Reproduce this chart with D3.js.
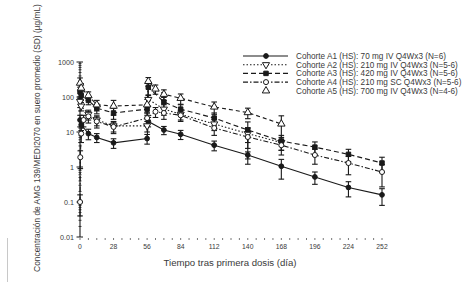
<!DOCTYPE html>
<html>
<head>
<meta charset="utf-8">
<script src="https://cdn.jsdelivr.net/npm/d3@7"></script>
<style>
  body { margin: 0; background: #fff; }
  svg { font-family: "Liberation Sans", Arial, sans-serif; }
</style>
</head>
<body>
<svg id="chart" width="475" height="282"></svg>
<script>
// each point: [day, mean, SD]
const cohortA1 = [[0.04, 22, 8], [1, 16, 5], [7, 9, 3], [14, 7, 2], [28, 4.9, 1.5], [56, 6.5, 2],
  [57, 20, 6], [70, 11.4, 3], [84, 8.6, 2.5], [112, 4.2, 1.3], [140, 2.2, 0.5], [168, 1.05, 0.6],
  [196, 0.52, 0.2], [224, 0.26, 0.12], [252, 0.16, 0.08]];
const cohortA2 = [[0.04, 75, 25], [1, 55, 15], [7, 32, 10], [14, 22, 7], [28, 15, 5], [56, 15, 5],
  [57, 85, 30], [70, 45, 15], [84, 32, 10], [112, 17, 6], [140, 9, 4], [168, 5, 2]];
const cohortA3 = [[0.04, 140, 50], [1, 110, 30], [7, 80, 20], [14, 48, 15], [28, 35, 12], [56, 45, 15],
  [57, 190, 80], [70, 72, 25], [84, 45, 15], [112, 25, 10], [140, 11.4, 8], [168, 5.5, 2.5],
  [196, 3.7, 1.5], [224, 2.3, 0.9], [252, 1.3, 0.6]];
const cohortA4 = [[0.04, 0.1, 0.06], [0.25, 1.9, 1.0], [1, 9, 4], [3, 22, 8], [7, 28, 10], [14, 20, 7],
  [28, 14, 5], [56, 25, 10], [63, 38, 12], [70, 35, 12], [84, 30, 10], [112, 13, 5], [140, 7.2, 6],
  [168, 4.2, 2], [196, 2.2, 1], [224, 1.3, 0.7], [252, 0.72, 0.45]];
const cohortA5 = [[0.04, 250, 100], [1, 180, 60], [7, 110, 30], [14, 60, 20], [28, 55, 25], [56, 60, 25],
  [57, 280, 80], [63, 170, 50], [70, 120, 40], [84, 92, 30], [112, 52, 20], [140, 36, 12], [168, 17, 12]];

const legendLabels = [
  "Cohorte A1 (HS): 70 mg IV Q4Wx3 (N=6)",
  "Cohorte A2 (HS): 210 mg IV Q4Wx3 (N=5-6)",
  "Cohorte A3 (HS): 420 mg IV Q4Wx3 (N=5-6)",
  "Cohorte A4 (HS): 210 mg SC Q4Wx3 (N=5-6)",
  "Cohorte A5 (HS): 700 mg IV Q4Wx3 (N=4-6)"
];
const xTicks = [0, 28, 56, 84, 112, 140, 168, 196, 224, 252];
const yTicks = [0.01, 0.1, 1, 10, 100, 1000];

const ink = "#1a1a1a";
const textInk = "#3a3a3a";

const cohorts = [
  { data: cohortA1, dash: null, shape: d3.symbolCircle, size: 18, open: false, legendLine: true },
  { data: cohortA2, dash: "1.5,2", shape: d3.symbolTriangle, size: 22, open: true, flip: true, legendLine: true },
  { data: cohortA3, dash: "5,3", shape: d3.symbolSquare, size: 20, open: false, legendLine: true },
  { data: cohortA4, dash: "5,2,1.5,2", shape: d3.symbolCircle, size: 20, open: true, legendLine: true },
  { data: cohortA5, dash: "4,3", shape: d3.symbolTriangle, size: 24, open: true, legendLine: false }
];
cohorts.forEach((c, i) => c.label = legendLabels[i]);

const svg = d3.select("#chart");

const x = d3.scaleLinear().domain([0, 252]).range([80, 382]);
const y = d3.scaleLog().domain([0.01, 1000]).range([237, 62]);

// faint scan edge
svg.append("line").attr("x1", 7.5).attr("x2", 7.5).attr("y1", 238).attr("y2", 282)
  .attr("stroke", "#c8c8c8");

// y axis
const yAxis = svg.append("g");
yAxis.append("line").attr("x1", x(0)).attr("x2", x(0)).attr("y1", y(1000)).attr("y2", y(0.01))
  .attr("stroke", ink).attr("stroke-width", 1.1);
const minorY = [];
for (let e = -2; e < 3; e++) for (let m = 2; m < 10; m++) minorY.push(m * Math.pow(10, e));
yAxis.selectAll(".minor").data(minorY).join("line")
  .attr("x1", x(0) - 1.5).attr("x2", x(0) + 1.5)
  .attr("y1", d => y(d)).attr("y2", d => y(d)).attr("stroke", ink).attr("stroke-width", 0.8);
yAxis.selectAll(".major").data(yTicks).join("line")
  .attr("x1", x(0) - 3.5).attr("x2", x(0) + 3)
  .attr("y1", d => y(d)).attr("y2", d => y(d)).attr("stroke", ink);
yAxis.selectAll("text").data(yTicks).join("text")
  .attr("x", x(0) - 6).attr("y", d => y(d)).attr("dy", "0.35em")
  .attr("text-anchor", "end").attr("font-size", 7.2).attr("fill", textInk)
  .text(d => d3.format("~g")(d));

// x axis: dotted small ticks every 7 days, no line
const xAxis = svg.append("g");
xAxis.selectAll(".minor").data(d3.range(0, 253, 7)).join("line")
  .attr("x1", d => x(d)).attr("x2", d => x(d)).attr("y1", 238).attr("y2", 240)
  .attr("stroke", "#555").attr("stroke-width", 0.8);
xAxis.selectAll("text").data(xTicks).join("text")
  .attr("x", d => x(d)).attr("y", 247).attr("dy", "0.35em")
  .attr("text-anchor", "middle").attr("font-size", 6.8).attr("fill", textInk)
  .text(d => d);

// axis titles
svg.append("text").attr("x", 230).attr("y", 266).attr("text-anchor", "middle")
  .attr("font-size", 9.6).attr("fill", textInk).text("Tiempo tras primera dosis (día)");
svg.append("text").attr("transform", "translate(40,138) rotate(-90)").attr("text-anchor", "middle")
  .attr("font-size", 8.4).attr("fill", textInk)
  .text("Concentración de AMG 139/MEDI2070 en suero promedio (SD) (µg/mL)");

const line = d3.line().x(d => x(d[0])).y(d => y(d[1]));
const symbolPath = c => d3.symbol().type(c.shape).size(c.size)();

const plot = svg.append("g");
cohorts.forEach(c => {
  plot.append("path").datum(c.data).attr("d", line).attr("fill", "none")
    .attr("stroke", ink).attr("stroke-width", 1.1).attr("stroke-dasharray", c.dash);
});
cohorts.forEach(c => {
  const g = plot.append("g");
  const lo = d => y(Math.max(d[1] - d[2], 0.011));
  const hi = d => y(d[1] + d[2]);
  g.selectAll(".bar").data(c.data).join("line")
    .attr("x1", d => x(d[0])).attr("x2", d => x(d[0]))
    .attr("y1", lo).attr("y2", hi).attr("stroke", ink).attr("stroke-width", 1.1);
  [lo, hi].forEach(f => {
    g.selectAll(null).data(c.data).join("line")
      .attr("x1", d => x(d[0]) - 2.8).attr("x2", d => x(d[0]) + 2.8)
      .attr("y1", f).attr("y2", f).attr("stroke", ink).attr("stroke-width", 1.1);
  });
});
cohorts.forEach(c => {
  plot.append("g").selectAll("path").data(c.data).join("path")
    .attr("d", symbolPath(c))
    .attr("transform", d => `translate(${x(d[0])},${y(d[1])})${c.flip ? " rotate(180)" : ""}`)
    .attr("fill", c.open ? "#fff" : ink).attr("stroke", ink).attr("stroke-width", 1);
});

// legend
const legend = svg.append("g");
cohorts.forEach((c, i) => {
  const ly = 56 + i * 8.7;
  if (c.legendLine) {
    legend.append("line").attr("x1", 243).attr("x2", 288).attr("y1", ly).attr("y2", ly)
      .attr("stroke", ink).attr("stroke-width", 1.1).attr("stroke-dasharray", c.dash);
  }
  legend.append("path").attr("d", symbolPath(c))
    .attr("transform", `translate(266,${ly})${c.flip ? " rotate(180)" : ""}`)
    .attr("fill", c.open ? "#fff" : ink).attr("stroke", ink).attr("stroke-width", 1);
  legend.append("text").attr("x", 296).attr("y", ly).attr("dy", "0.35em")
    .attr("font-size", 8.2).attr("fill", textInk).text(c.label);
});
</script>
</body>
</html>
